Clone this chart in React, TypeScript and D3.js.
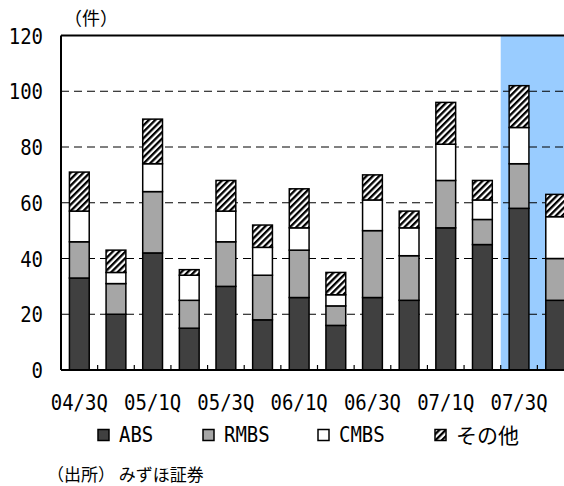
import React from 'react';
import * as d3 from 'd3';

const quarters = ['04/3Q', '04/4Q', '05/1Q', '05/2Q', '05/3Q', '05/4Q', '06/1Q', '06/2Q', '06/3Q', '06/4Q', '07/1Q', '07/2Q', '07/3Q', '07/4Q'];
const absValues = [33, 20, 42, 15, 30, 18, 26, 16, 26, 25, 51, 45, 58, 25];
const rmbsValues = [13, 11, 22, 10, 16, 16, 17, 7, 24, 16, 17, 9, 16, 15];
const cmbsValues = [11, 4, 10, 9, 11, 10, 8, 4, 11, 10, 13, 7, 13, 15];
const otherValues = [14, 8, 16, 2, 11, 8, 14, 8, 9, 6, 15, 7, 15, 8];
const seriesNames = ['ABS', 'RMBS', 'CMBS', 'その他'];
const yTicks = [0, 20, 40, 60, 80, 100, 120];
const highlighted = ['07/3Q', '07/4Q'];
const unitLabel = '（件）';
const sourceLabel = '（出所） みずほ証券';

const W = 564;
const H = 486;
const LEFT = 61;
const RIGHT = 574;
const TOP = 35.5;
const BOTTOM = 370;
const LATIN = '"DejaVu Sans Mono", monospace';
const CJK = '"Noto Sans CJK JP", sans-serif';
const TALL = 1.14;

const fills = ['#404040', '#a6a6a6', '#ffffff', 'url(#hatch)'];
const legendX = [98, 203, 318, 435];

function Tall({ x, y, anchor, children }: { x: number; y: number; anchor?: string; children: any }) {
  return (
    <text
      transform={`translate(${x},${y}) scale(1,${TALL})`}
      textAnchor={anchor || 'start'}
      fontFamily={LATIN}
      fontSize={19}
      fill="#000"
    >
      {children}
    </text>
  );
}

export default function App() {
  const x = d3.scaleBand<string>().domain(quarters).range([LEFT, RIGHT]).padding(0);
  const y = d3.scaleLinear().domain([0, 120]).range([BOTTOM, TOP]);
  const barW = x.bandwidth() * 0.54;

  const table = quarters.map((q, i) => ({
    q,
    ABS: absValues[i],
    RMBS: rmbsValues[i],
    CMBS: cmbsValues[i],
    'その他': otherValues[i],
  }));
  const stack = d3.stack<any>().keys(seriesNames)(table);

  const hiStart = x(highlighted[0])!;
  const hiEnd = x(highlighted[highlighted.length - 1])! + x.bandwidth();

  return (
    <svg
      width={W}
      height={H}
      style={{ position: 'absolute', left: 0, top: 0, background: '#fff', overflow: 'hidden' }}
    >
      <defs>
        <pattern id="hatch" patternUnits="userSpaceOnUse" width={4.5} height={4.5} patternTransform="rotate(45)">
          <rect width={4.5} height={4.5} fill="#fff" />
          <rect width={2.3} height={4.5} fill="#000" />
        </pattern>
        <clipPath id="clip">
          <rect x={0} y={0} width={W} height={H} />
        </clipPath>
      </defs>
      <g clipPath="url(#clip)">
        <rect x={hiStart} y={TOP} width={hiEnd - hiStart} height={BOTTOM - TOP} fill="#99ccff" />
        {yTicks.filter((t) => t > 0 && t < 120).map((t) => (
          <line key={t} x1={LEFT} x2={RIGHT} y1={y(t)} y2={y(t)} stroke="#000" strokeWidth={1} strokeDasharray="8,5" />
        ))}
        {stack.map((s, si) => (
          <g key={s.key}>
            {s.map((d, i) => (
              <rect
                key={i}
                x={x(quarters[i])! + (x.bandwidth() - barW) / 2}
                y={y(d[1])}
                width={barW}
                height={y(d[0]) - y(d[1])}
                fill={fills[si]}
                stroke="#000"
                strokeWidth={1.5}
              />
            ))}
          </g>
        ))}
        <line x1={LEFT} x2={RIGHT} y1={TOP} y2={TOP} stroke="#000" strokeWidth={1.8} />
        <line x1={LEFT} x2={LEFT} y1={TOP} y2={BOTTOM} stroke="#000" strokeWidth={2} />
        <line x1={LEFT} x2={RIGHT} y1={BOTTOM} y2={BOTTOM} stroke="#000" strokeWidth={2} />
        {quarters.map((q) => (
          <line key={q} x1={x(q)!} x2={x(q)!} y1={BOTTOM} y2={BOTTOM - 5} stroke="#000" strokeWidth={1.2} />
        ))}
      </g>
      {yTicks.map((t) => (
        <Tall key={t} x={43} y={y(t) + 8} anchor="end">
          {t}
        </Tall>
      ))}
      <text x={91} y={25} textAnchor="middle" fontFamily={CJK} fontSize={18} fill="#000">
        {unitLabel}
      </text>
      {quarters.map((q, i) =>
        i % 2 === 0 ? (
          <Tall key={q} x={x(q)! + x.bandwidth() / 2} y={410} anchor="middle">
            {q}
          </Tall>
        ) : null
      )}
      {seriesNames.map((n, i) => (
        <g key={n} transform={`translate(${legendX[i]},0)`}>
          <rect x={0} y={429.5} width={11} height={11} fill={fills[i]} stroke="#000" strokeWidth={1.5} />
          {i === 3 ? (
            <text x={21} y={443} fontFamily={CJK} fontSize={21} fill="#000">
              {n}
            </text>
          ) : (
            <Tall x={21} y={442}>
              {n}
            </Tall>
          )}
        </g>
      ))}
      <text x={47} y={481} fontFamily={CJK} fontSize={17} fill="#000">
        {sourceLabel}
      </text>
    </svg>
  );
}
